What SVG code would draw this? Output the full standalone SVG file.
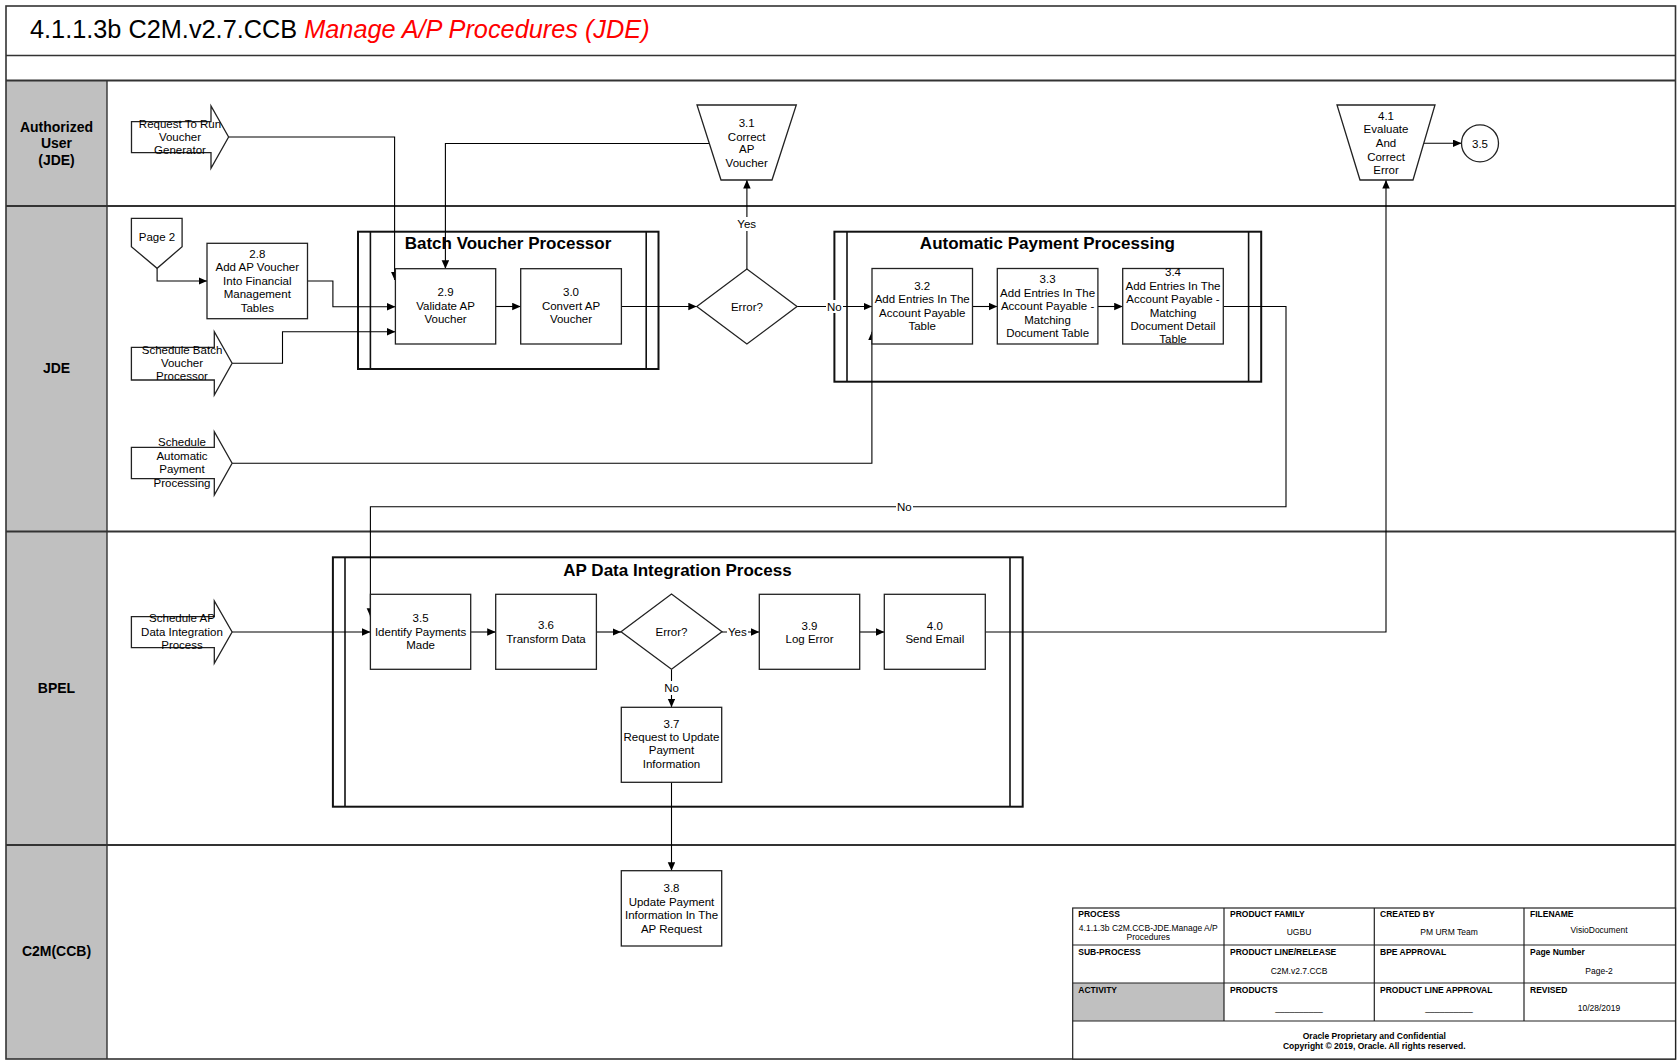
<svg xmlns="http://www.w3.org/2000/svg" width="1680" height="1062" viewBox="0 0 1680 1062">
<defs>
<style>
text{font-family:"Liberation Sans",Arial,sans-serif;fill:#000}
.n{font-size:11.5px;text-anchor:middle}
.lane{font-size:14px;font-weight:bold;text-anchor:middle}
.ct{font-size:17px;font-weight:bold;text-anchor:middle}
.box{fill:#fff;stroke:#222;stroke-width:1.3}
.cont{fill:none;stroke:#111;stroke-width:2}
.inner{stroke:#111;stroke-width:1.6}
.conn{fill:none;stroke:#000;stroke-width:1.1}
.lbl{fill:#fff;stroke:none}
.sep{stroke:#333;stroke-width:2}
.tbl{font-size:8.5px;font-weight:bold}
.tbv{font-size:8.5px;text-anchor:middle}
.tbc{fill:none;stroke:#222;stroke-width:1.2}
</style>
<marker id="ah" markerWidth="9" markerHeight="8" refX="8.5" refY="3.75" orient="auto" markerUnits="userSpaceOnUse">
<path d="M0,0 L8.5,3.75 L0,7.5 Z" fill="#000"/>
</marker>
</defs>

<rect x="0" y="0" width="1680" height="1062" fill="#fff"/>

<g id="frame">
<rect x="6" y="80.5" width="101" height="978.5" fill="#c0c0c0"/>
<rect x="6" y="6" width="1669.5" height="1053" fill="none" stroke="#333" stroke-width="1.6"/>
<line x1="6" y1="55.5" x2="1675.5" y2="55.5" stroke="#333" stroke-width="1.4"/>
<line x1="6" y1="80.5" x2="1675.5" y2="80.5" class="sep"/>
<line x1="6" y1="206" x2="1675.5" y2="206" class="sep"/>
<line x1="6" y1="531.5" x2="1675.5" y2="531.5" class="sep"/>
<line x1="6" y1="845" x2="1675.5" y2="845" class="sep"/>
<line x1="107" y1="80.5" x2="107" y2="1059" stroke="#333" stroke-width="1.4"/>
<text x="30" y="37.5" style="font-size:25.3px">4.1.1.3b C2M.v2.7.CCB <tspan style="fill:#ff0000;font-style:italic">Manage A/P Procedures (JDE)</tspan></text>
<text class="lane" x="56.5" y="131.5">Authorized</text>
<text class="lane" x="56.5" y="148">User</text>
<text class="lane" x="56.5" y="164.5">(JDE)</text>
<text class="lane" x="56.5" y="372.5">JDE</text>
<text class="lane" x="56.5" y="693">BPEL</text>
<text class="lane" x="56.5" y="956">C2M(CCB)</text>
</g>

<g id="containers">
<g id="batch-voucher-processor">
<rect class="cont" x="358" y="231.7" width="300.5" height="137.3" fill="none"/>
<line class="inner" x1="370.4" y1="231.7" x2="370.4" y2="369"/>
<line class="inner" x1="646.2" y1="231.7" x2="646.2" y2="369"/>
<text class="ct" x="508" y="249">Batch Voucher Processor</text>
</g>
<g id="automatic-payment-processing">
<rect class="cont" x="834.4" y="231.7" width="426.8" height="150"/>
<line class="inner" x1="847" y1="231.7" x2="847" y2="381.7"/>
<line class="inner" x1="1248.6" y1="231.7" x2="1248.6" y2="381.7"/>
<text class="ct" x="1047.4" y="249">Automatic Payment Processing</text>
</g>
<g id="ap-data-integration-process">
<rect class="cont" x="332.9" y="557.3" width="689.8" height="249.4"/>
<line class="inner" x1="345" y1="557.3" x2="345" y2="806.7"/>
<line class="inner" x1="1010" y1="557.3" x2="1010" y2="806.7"/>
<text class="ct" x="677.5" y="575.5">AP Data Integration Process</text>
</g>
</g>

<g id="connectors">
<polyline class="conn" points="228.6,137 394.6,137 394.6,280" marker-end="url(#ah)"/>
<polyline class="conn" points="709,143.5 445.4,143.5 445.4,268.7" marker-end="url(#ah)"/>
<polyline class="conn" points="157.1,268.3 157.1,281 207,281" marker-end="url(#ah)"/>
<polyline class="conn" points="307.5,281 332.9,281 332.9,306.7 395.4,306.7" marker-end="url(#ah)"/>
<polyline class="conn" points="232.1,363.3 282.5,363.3 282.5,331.7 395.4,331.7" marker-end="url(#ah)"/>
<polyline class="conn" points="495.7,306.5 520.7,306.5" marker-end="url(#ah)"/>
<polyline class="conn" points="621.4,306.5 696.8,306.5" marker-end="url(#ah)"/>
<polyline class="conn" points="746.9,269 746.9,180" marker-end="url(#ah)"/>
<polyline class="conn" points="797,306.5 872,306.5" marker-end="url(#ah)"/>
<polyline class="conn" points="972.5,306.5 997.3,306.5" marker-end="url(#ah)"/>
<polyline class="conn" points="1097.9,306.5 1122.7,306.5" marker-end="url(#ah)"/>
<polyline class="conn" points="232.1,463.3 871.9,463.3 871.9,331.7" marker-end="url(#ah)"/>
<polyline class="conn" points="1223.3,306.5 1286,306.5 1286,506.7 370.4,506.7 370.4,616.7" marker-end="url(#ah)"/>
<polyline class="conn" points="232.1,632 370.4,632" marker-end="url(#ah)"/>
<polyline class="conn" points="470.7,632 495.7,632" marker-end="url(#ah)"/>
<polyline class="conn" points="596.4,632 621,632" marker-end="url(#ah)"/>
<polyline class="conn" points="722,632 759.3,632" marker-end="url(#ah)"/>
<polyline class="conn" points="859.7,632 884.3,632" marker-end="url(#ah)"/>
<polyline class="conn" points="985.3,632 1386,632 1386,180" marker-end="url(#ah)"/>
<polyline class="conn" points="671.5,669.3 671.5,707.3" marker-end="url(#ah)"/>
<polyline class="conn" points="671.5,782.3 671.5,870.7" marker-end="url(#ah)"/>
<polyline class="conn" points="1424,143.3 1461.5,143.3" marker-end="url(#ah)"/>
<rect class="lbl" x="736" y="217" width="21" height="14"/>
<text class="n" x="746.7" y="228">Yes</text>
<rect class="lbl" x="826" y="300" width="17" height="13"/>
<text class="n" x="834.4" y="310.5">No</text>
<rect class="lbl" x="896" y="500" width="17" height="13"/>
<text class="n" x="904.3" y="510.7">No</text>
<rect class="lbl" x="727" y="625" width="21" height="13"/>
<text class="n" x="737.3" y="636">Yes</text>
<rect class="lbl" x="663" y="681" width="17" height="14"/>
<text class="n" x="671.5" y="692.3">No</text>
</g>

<g id="request-to-run-voucher-generator">
<path class="box" d="M131.5,121.7 L211,121.7 L211,106 L228.6,137 L211,168.3 L211,152.7 L131.5,152.7 Z"/>
<text class="n" x="180" y="128">Request To Run</text>
<text class="n" x="180" y="141.3">Voucher</text>
<text class="n" x="180" y="154.3">Generator</text>
</g>
<g id="n3-1">
<path class="box" d="M697,105 L796.3,105 L772,180 L721,180 Z"/>
<text class="n" x="746.7" y="127.3">3.1</text>
<text class="n" x="746.7" y="140.7">Correct</text>
<text class="n" x="746.7" y="153.3">AP</text>
<text class="n" x="746.7" y="166.7">Voucher</text>
</g>
<g id="n4-1">
<path class="box" d="M1337,105 L1435,105 L1413,180 L1360,180 Z"/>
<text class="n" x="1386" y="120">4.1</text>
<text class="n" x="1386" y="133.3">Evaluate</text>
<text class="n" x="1386" y="147.3">And</text>
<text class="n" x="1386" y="160.7">Correct</text>
<text class="n" x="1386" y="174">Error</text>
</g>
<g id="ref-3-5">
<circle class="box" cx="1480" cy="143.3" r="18.5"/>
<text class="n" x="1480" y="147.5">3.5</text>
</g>
<g id="page-2">
<path class="box" d="M131.4,218.3 L182.1,218.3 L182.1,246.7 L157.1,268.3 L131.4,246.7 Z"/>
<text class="n" x="157" y="241">Page 2</text>
</g>
<g id="n2-8">
<rect class="box" x="207" y="243.3" width="100.5" height="75.4"/>
<text class="n" x="257.3" y="258">2.8</text>
<text class="n" x="257.3" y="271.4">Add AP Voucher</text>
<text class="n" x="257.3" y="284.8">Into Financial</text>
<text class="n" x="257.3" y="298.2">Management</text>
<text class="n" x="257.3" y="311.6">Tables</text>
</g>
<g id="schedule-batch-voucher-processor">
<path class="box" d="M131.4,347.3 L214.3,347.3 L214.3,331.7 L232.1,363.3 L214.3,395 L214.3,380 L131.4,380 Z"/>
<text class="n" x="182" y="354">Schedule Batch</text>
<text class="n" x="182" y="367.3">Voucher</text>
<text class="n" x="182" y="380">Processor</text>
</g>
<g id="schedule-automatic-payment-processing">
<path class="box" d="M131.4,447.3 L214.3,447.3 L214.3,431.7 L232.1,463.3 L214.3,495 L214.3,478.7 L131.4,478.7 Z"/>
<text class="n" x="182" y="446.3">Schedule</text>
<text class="n" x="182" y="460.3">Automatic</text>
<text class="n" x="182" y="473.3">Payment</text>
<text class="n" x="182" y="487.3">Processing</text>
</g>
<g id="n2-9">
<rect class="box" x="395.4" y="268.7" width="100.3" height="75.3"/>
<text class="n" x="445.6" y="296.3">2.9</text>
<text class="n" x="445.6" y="309.7">Validate AP</text>
<text class="n" x="445.6" y="323.1">Voucher</text>
</g>
<g id="n3-0">
<rect class="box" x="520.7" y="268.7" width="100.7" height="75.3"/>
<text class="n" x="571" y="296.3">3.0</text>
<text class="n" x="571" y="309.7">Convert AP</text>
<text class="n" x="571" y="323.1">Voucher</text>
</g>
<g id="error-1">
<path class="box" d="M696.8,306.5 L746.9,269 L797,306.5 L746.9,344 Z"/>
<text class="n" x="746.9" y="310.5">Error?</text>
</g>
<g id="n3-2">
<rect class="box" x="872" y="268.5" width="100.5" height="75.5"/>
<text class="n" x="922.2" y="290">3.2</text>
<text class="n" x="922.2" y="303.4">Add Entries In The</text>
<text class="n" x="922.2" y="316.8">Account Payable</text>
<text class="n" x="922.2" y="330.2">Table</text>
</g>
<g id="n3-3">
<rect class="box" x="997.3" y="268.5" width="100.6" height="75.5"/>
<text class="n" x="1047.6" y="283.3">3.3</text>
<text class="n" x="1047.6" y="296.7">Add Entries In The</text>
<text class="n" x="1047.6" y="310.1">Account Payable  -</text>
<text class="n" x="1047.6" y="323.5">Matching</text>
<text class="n" x="1047.6" y="336.9">Document Table</text>
</g>
<g id="n3-4">
<rect class="box" x="1122.7" y="268.5" width="100.6" height="75.5"/>
<text class="n" x="1173" y="276.3">3.4</text>
<text class="n" x="1173" y="289.7">Add Entries In The</text>
<text class="n" x="1173" y="303.1">Account Payable  -</text>
<text class="n" x="1173" y="316.5">Matching</text>
<text class="n" x="1173" y="329.9">Document Detail</text>
<text class="n" x="1173" y="343.3">Table</text>
</g>
<g id="schedule-ap-data-integration-process">
<path class="box" d="M131.4,616.7 L214.3,616.7 L214.3,601 L232.1,632 L214.3,663.3 L214.3,647.7 L131.4,647.7 Z"/>
<text class="n" x="182" y="622.3">Schedule AP</text>
<text class="n" x="182" y="636.3">Data Integration</text>
<text class="n" x="182" y="649.3">Process</text>
</g>
<g id="n3-5">
<rect class="box" x="370.4" y="594.3" width="100.3" height="75"/>
<text class="n" x="420.6" y="622.3">3.5</text>
<text class="n" x="420.6" y="635.7">Identify Payments</text>
<text class="n" x="420.6" y="649.1">Made</text>
</g>
<g id="n3-6">
<rect class="box" x="495.7" y="594.3" width="100.7" height="75"/>
<text class="n" x="546" y="629.3">3.6</text>
<text class="n" x="546" y="642.7">Transform Data</text>
</g>
<g id="error-2">
<path class="box" d="M621,631.7 L671.5,594 L722,631.7 L671.5,669.3 Z"/>
<text class="n" x="671.5" y="635.7">Error?</text>
</g>
<g id="n3-9">
<rect class="box" x="759.3" y="594.3" width="100.4" height="75"/>
<text class="n" x="809.5" y="629.7">3.9</text>
<text class="n" x="809.5" y="643.1">Log Error</text>
</g>
<g id="n4-0">
<rect class="box" x="884.3" y="594.3" width="101" height="75"/>
<text class="n" x="934.8" y="629.7">4.0</text>
<text class="n" x="934.8" y="643.1">Send Email</text>
</g>
<g id="n3-7">
<rect class="box" x="621.3" y="707.3" width="100.4" height="75"/>
<text class="n" x="671.5" y="727.5">3.7</text>
<text class="n" x="671.5" y="740.9">Request to Update</text>
<text class="n" x="671.5" y="754.3">Payment</text>
<text class="n" x="671.5" y="767.7">Information</text>
</g>
<g id="n3-8">
<rect class="box" x="621.3" y="870.7" width="100.4" height="75.3"/>
<text class="n" x="671.5" y="892.3">3.8</text>
<text class="n" x="671.5" y="905.7">Update Payment</text>
<text class="n" x="671.5" y="919.1">Information In The</text>
<text class="n" x="671.5" y="932.5">AP Request</text>
</g>

<g id="title-block">
<rect x="1072.7" y="908" width="602.8" height="151" fill="#fff"/>
<rect x="1072.7" y="983" width="151.3" height="38" fill="#c0c0c0"/>
<rect class="tbc" x="1072.7" y="908" width="602.8" height="151"/>
<line class="tbc" x1="1072.7" y1="945" x2="1675.5" y2="945"/>
<line class="tbc" x1="1072.7" y1="983" x2="1675.5" y2="983"/>
<line class="tbc" x1="1072.7" y1="1021" x2="1675.5" y2="1021"/>
<line class="tbc" x1="1224" y1="908" x2="1224" y2="1021"/>
<line class="tbc" x1="1374.3" y1="908" x2="1374.3" y2="1021"/>
<line class="tbc" x1="1524" y1="908" x2="1524" y2="1021"/>
<text class="tbl" x="1078.3" y="917.3">PROCESS</text>
<text class="tbl" x="1230" y="917.3">PRODUCT FAMILY</text>
<text class="tbl" x="1380" y="917.3">CREATED BY</text>
<text class="tbl" x="1530" y="917.3">FILENAME</text>
<text class="tbl" x="1078.3" y="955.3">SUB-PROCESS</text>
<text class="tbl" x="1230" y="955.3">PRODUCT LINE/RELEASE</text>
<text class="tbl" x="1380" y="955.3">BPE APPROVAL</text>
<text class="tbl" x="1530" y="955.3">Page Number</text>
<text class="tbl" x="1078.3" y="993">ACTIVITY</text>
<text class="tbl" x="1230" y="993">PRODUCTS</text>
<text class="tbl" x="1380" y="993">PRODUCT LINE APPROVAL</text>
<text class="tbl" x="1530" y="993">REVISED</text>
<text class="tbv" x="1148.3" y="930.7">4.1.1.3b C2M.CCB-JDE.Manage A/P</text>
<text class="tbv" x="1148.3" y="939.7">Procedures</text>
<text class="tbv" x="1299" y="935.3">UGBU</text>
<text class="tbv" x="1449" y="935.3">PM URM Team</text>
<text class="tbv" x="1599" y="933">VisioDocument</text>
<text class="tbv" x="1299" y="974">C2M.v2.7.CCB</text>
<text class="tbv" x="1599" y="973.7">Page-2</text>
<text class="tbv" x="1299" y="1010.7">__________</text>
<text class="tbv" x="1449" y="1010.7">__________</text>
<text class="tbv" x="1599" y="1010.7">10/28/2019</text>
<text class="tbv" x="1374.3" y="1038.7" style="font-weight:bold">Oracle Proprietary and Confidential</text>
<text class="tbv" x="1374.3" y="1048.7" style="font-weight:bold">Copyright © 2019, Oracle. All rights reserved.</text>
</g>
</svg>
